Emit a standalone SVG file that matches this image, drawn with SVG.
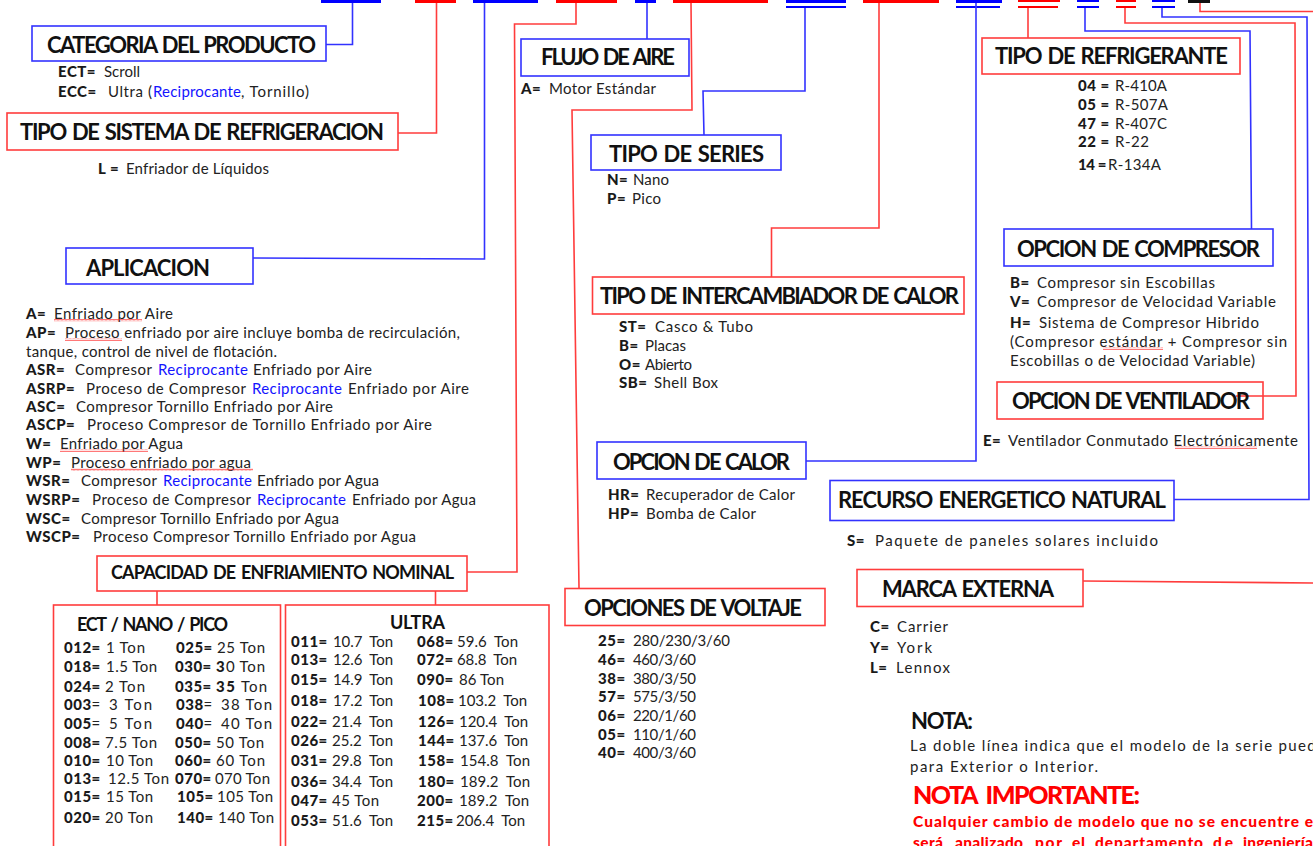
<svg xmlns="http://www.w3.org/2000/svg" width="1313" height="846" viewBox="0 0 1313 846">
<style>
text{font-family:"Lato","Open Sans","Liberation Sans",sans-serif;font-size:15px;fill:#222;white-space:pre;transform:translateY(.5px)}
.t{font-size:22px;font-weight:700;fill:#111;word-spacing:2px;transform:translateY(1px)}
.t2{font-size:18px}
.k{font-weight:900;fill:#1a1a1a;letter-spacing:.5px}
.b{fill:#1414ff}
.r{fill:#f00;font-weight:900;font-size:15.5px}
.box{fill:#fff;stroke-width:1.6}
.rb{stroke:#ff3c3c}.bb{stroke:#3232ff}
.c{fill:none;stroke-width:1.6}
.sq{fill:url(#squig)}
</style>
<defs>
<pattern id="squig" width="4" height="3" patternUnits="userSpaceOnUse"><path d="M0 2.500L1 .8 2 2.500 3 .8 4 2.500" fill="none" stroke="#f33" stroke-width=".7"/></pattern>
</defs>
<rect width="1313" height="846" fill="#fff"/>

<g id="code-bars">
<rect x="321" y="0" width="60" height="3" fill="#00f"/>
<rect x="415" y="0" width="41" height="3" fill="#f00"/>
<rect x="473" y="0" width="65" height="3" fill="#00f"/>
<rect x="556" y="0" width="61" height="3" fill="#f00"/>
<rect x="635" y="0" width="21" height="3" fill="#00f"/>
<rect x="673" y="0" width="95" height="3" fill="#f00"/>
<rect x="786" y="0" width="60" height="3" fill="#00f"/><rect x="786" y="6" width="60" height="2" fill="#00f"/>
<rect x="863" y="0" width="76" height="3" fill="#f00"/>
<rect x="956" y="0" width="46" height="3" fill="#00f"/><rect x="956" y="6" width="44" height="2" fill="#00f"/>
<rect x="1018" y="0" width="42" height="2" fill="#f00"/><rect x="1018" y="6" width="40" height="2" fill="#f00"/>
<rect x="1077" y="0" width="22" height="2" fill="#00f"/><rect x="1077" y="6" width="22" height="2" fill="#00f"/>
<rect x="1116" y="0" width="20" height="2" fill="#f00"/><rect x="1116" y="6" width="20" height="2" fill="#f00"/>
<rect x="1152" y="0" width="23" height="2" fill="#00f"/><rect x="1152" y="6" width="23" height="2" fill="#00f"/>
<rect x="1188" y="0" width="22" height="3" fill="#111"/>
</g>

<g id="connectors">
<path class="c bb" d="M352.500 3V44.500H326"/>
<path class="c rb" d="M436.500 3V133H398"/>
<path class="c bb" d="M484.500 3V259L253 258"/>
<path class="c rb" d="M576 3V24H514.500L517 572H467"/>
<path class="c bb" d="M647 3V39"/>
<path class="c rb" d="M691 3L692 110H572L579 588"/>
<path class="c bb" d="M805 8V91H703L704 135"/>
<path class="c rb" d="M879 3V228H771.500V277"/>
<path class="c bb" d="M976 3V461H806"/>
<path class="c rb" d="M1028 8V38"/>
<path class="c bb" d="M1085 8V31H1250L1251.500 229"/>
<path class="c rb" d="M1125 8V23H1295L1296 396H1236"/>
<path class="c bb" d="M1162 8V17H1307L1309 499.500H1174"/>
<path class="c rb" d="M1200 3V11.500H1313"/>
<path class="c rb" d="M1083 581L1313 583"/>
<path class="c rb" d="M157 591V605M435.500 591V605"/>
</g>

<g id="categoria"><rect class="box bb" x="32" y="26" width="294" height="35"/>
<text class="t" x="47" y="52" textLength="269">CATEGORIA DEL PRODUCTO</text>
<text class="k" x="58" y="76">ECT=</text><text x="104" y="76" textLength="36">Scroll</text>
<text class="k" x="58" y="96">ECC=</text><text x="108" y="96" textLength="44">Ultra (</text><text class="b" x="153" y="96" textLength="88">Reciprocante</text><text x="241" y="96" textLength="68">, Tornillo)</text></g>

<g id="sistema"><rect class="box rb" x="7" y="113" width="391" height="37"/>
<text class="t" x="20" y="139" textLength="364">TIPO DE SISTEMA DE REFRIGERACION</text>
<text class="k" x="98" y="173">L =</text><text x="126" y="173" textLength="143">Enfriador de Líquidos</text></g>

<g id="aplicacion"><rect class="box bb" x="66" y="248" width="187" height="36"/>
<text class="t" x="86" y="275" textLength="124">APLICACION</text>
<text class="k" x="26" y="318">A=</text><text x="54" y="318" textLength="119">Enfriado por Aire</text><rect class="sq" x="54" y="319" width="88" height="3"/>
<text class="k" x="26" y="337">AP=</text><text x="65" y="337" textLength="395">Proceso enfriado por aire incluye bomba de recirculación,</text><rect class="sq" x="65" y="338" width="57" height="3"/>
<text x="26" y="356" textLength="251">tanque, control de nivel de flotación.</text>
<text class="k" x="26" y="374">ASR=</text><text x="75" y="374" textLength="77">Compresor</text><text class="b" x="158" y="374" textLength="90">Reciprocante</text><text x="253" y="374" textLength="119">Enfriado por Aire</text>
<text class="k" x="26" y="393">ASRP=</text><text x="86" y="393" textLength="160">Proceso de Compresor</text><text class="b" x="252" y="393" textLength="90">Reciprocante</text><text x="348" y="393" textLength="121">Enfriado por Aire</text>
<text class="k" x="26" y="411">ASC=</text><text x="76" y="411" textLength="257">Compresor Tornillo Enfriado por Aire</text>
<text class="k" x="26" y="429">ASCP=</text><text x="87" y="429" textLength="345">Proceso Compresor de Tornillo Enfriado por Aire</text>
<text class="k" x="26" y="448">W=</text><text x="60" y="448" textLength="123">Enfriado por Agua</text><rect class="sq" x="60" y="449" width="88" height="3"/>
<text class="k" x="26" y="467">WP=</text><text x="71" y="467" textLength="180">Proceso enfriado por agua</text><rect class="sq" x="71" y="468" width="182" height="3"/>
<text class="k" x="26" y="485">WSR=</text><text x="81" y="485" textLength="76">Compresor</text><text class="b" x="163" y="485" textLength="89">Reciprocante</text><text x="257" y="485" textLength="122">Enfriado por Agua</text>
<text class="k" x="26" y="504">WSRP=</text><text x="92" y="504" textLength="159">Proceso de Compresor</text><text class="b" x="257" y="504" textLength="89">Reciprocante</text><text x="352" y="504" textLength="124">Enfriado por Agua</text>
<text class="k" x="26" y="523">WSC=</text><text x="81" y="523" textLength="258">Compresor Tornillo Enfriado por Agua</text>
<text class="k" x="26" y="541">WSCP=</text><text x="93" y="541" textLength="323">Proceso Compresor Tornillo Enfriado por Agua</text></g>

<g id="capacidad"><rect class="box rb" x="97" y="556" width="370" height="35"/>
<text class="t t2" x="111" y="578" textLength="343">CAPACIDAD DE ENFRIAMIENTO NOMINAL</text></g>

<g id="tabla-ect"><rect class="box rb" x="53.500" y="605" width="227" height="250"/>
<text class="t t2" x="77" y="630" textLength="151">ECT / NANO / PICO</text>
<text class="k" x="64" y="652">012=</text><text x="106" y="652" textLength="39">1 Ton</text>
<text class="k" x="64" y="671">018=</text><text x="106" y="671" textLength="51">1.5 Ton</text>
<text class="k" x="64" y="691">024=</text><text x="105" y="691" textLength="40">2 Ton</text>
<text x="64" y="709"><tspan class="k">003</tspan>=</text><text x="109" y="709" textLength="43">3 Ton</text>
<text x="64" y="728"><tspan class="k">005</tspan>=</text><text x="109" y="728" textLength="43">5 Ton</text>
<text class="k" x="64" y="747">008=</text><text x="105" y="747" textLength="52">7.5 Ton</text>
<text class="k" x="64" y="765">010=</text><text x="106" y="765" textLength="47">10 Ton</text>
<text class="k" x="64" y="783">013=</text><text x="108" y="783" textLength="61">12.5 Ton</text>
<text class="k" x="64" y="801">015=</text><text x="106" y="801" textLength="47">15 Ton</text>
<text class="k" x="64" y="822">020=</text><text x="105" y="822" textLength="48">20 Ton</text>
<text class="k" x="176" y="652">025=</text><text x="217" y="652" textLength="48">25 Ton</text>
<text class="k" x="175" y="671">030=</text><text x="216" y="671" textLength="49"><tspan class="k">3</tspan>0 Ton</text>
<text class="k" x="175" y="691">035=</text><text x="216" y="691" textLength="51"><tspan class="k">35</tspan> Ton</text>
<text x="176" y="709"><tspan class="k">038</tspan>=</text><text x="221" y="709" textLength="51">38 Ton</text>
<text x="176" y="728"><tspan class="k">040</tspan>=</text><text x="221" y="728" textLength="51">40 Ton</text>
<text class="k" x="175" y="747">050=</text><text x="216" y="747" textLength="48">50 Ton</text>
<text class="k" x="175" y="765">060=</text><text x="216" y="765" textLength="49">60 Ton</text>
<text class="k" x="175" y="783">070=</text><text x="215" y="783" textLength="55">070 Ton</text>
<text class="k" x="177" y="801">105=</text><text x="217" y="801" textLength="56">105 Ton</text>
<text class="k" x="177" y="822">140=</text><text x="218" y="822" textLength="56">140 Ton</text></g>

<g id="tabla-ultra"><rect class="box rb" x="285.500" y="605" width="263.500" height="250"/>
<text class="t t2" x="390" y="628" textLength="55">ULTRA</text>
<text class="k" x="291" y="646">011=</text><text x="333" y="646" textLength="60">10.7  Ton</text>
<text class="k" x="291" y="664">013=</text><text x="333" y="664" textLength="60">12.6  Ton</text>
<text class="k" x="291" y="684">015=</text><text x="333" y="684" textLength="60">14.9  Ton</text>
<text class="k" x="291" y="705">018=</text><text x="333" y="705" textLength="60">17.2  Ton</text>
<text class="k" x="291" y="726">022=</text><text x="332" y="726" textLength="61">21.4  Ton</text>
<text class="k" x="291" y="745">026=</text><text x="332" y="745" textLength="61">25.2  Ton</text>
<text class="k" x="291" y="765">031=</text><text x="332" y="765" textLength="61">29.8  Ton</text>
<text class="k" x="291" y="786">036=</text><text x="332" y="786" textLength="61">34.4  Ton</text>
<text class="k" x="291" y="805">047=</text><text x="332" y="805" textLength="47">45 Ton</text>
<text class="k" x="291" y="825">053=</text><text x="332" y="825" textLength="61">51.6  Ton</text>
<text class="k" x="417" y="646">068=</text><text x="457" y="646" textLength="61">59.6  Ton</text>
<text class="k" x="417" y="664">072=</text><text x="457" y="664" textLength="60">68.8  Ton</text>
<text class="k" x="417" y="684">090=</text><text x="459" y="684" textLength="45">86 Ton</text>
<text class="k" x="418" y="705">108=</text><text x="458" y="705" textLength="69">103.2  Ton</text>
<text class="k" x="418" y="726">126=</text><text x="459" y="726" textLength="69">120.4  Ton</text>
<text class="k" x="418" y="745">144=</text><text x="459" y="745" textLength="69">137.6  Ton</text>
<text class="k" x="418" y="765">158=</text><text x="460" y="765" textLength="70">154.8  Ton</text>
<text class="k" x="418" y="786">180=</text><text x="460" y="786" textLength="70">189.2  Ton</text>
<text class="k" x="417" y="805">200=</text><text x="459" y="805" textLength="70">189.2  Ton</text>
<text class="k" x="417" y="825">215=</text><text x="456" y="825" textLength="69">206.4  Ton</text></g>

<g id="flujo"><rect class="box bb" x="521" y="39" width="168" height="37"/>
<text class="t" x="541" y="64" textLength="134">FLUJO DE AIRE</text>
<text class="k" x="521" y="93">A=</text><text x="549" y="93" textLength="107">Motor Estándar</text></g>

<g id="series"><rect class="box bb" x="591" y="135" width="190" height="35"/>
<text class="t" x="609" y="161" textLength="155">TIPO DE SERIES</text>
<text class="k" x="607" y="184">N=</text><text x="633" y="184" textLength="36">Nano</text>
<text class="k" x="607" y="203">P=</text><text x="632" y="203" textLength="29">Pico</text></g>

<g id="intercambiador"><rect class="box rb" x="592.500" y="277" width="371.500" height="37"/>
<text class="t" x="600" y="303" textLength="359">TIPO DE INTERCAMBIADOR DE CALOR</text>
<text class="k" x="619" y="331">ST=</text><text x="655" y="331" textLength="98">Casco &amp; Tubo</text>
<text class="k" x="619" y="350">B=</text><text x="645" y="350" textLength="41">Placas</text>
<text class="k" x="619" y="369">O=</text><text x="645" y="369" textLength="47">Abierto</text>
<text class="k" x="619" y="387">SB=</text><text x="654" y="387" textLength="64">Shell Box</text></g>

<g id="calor"><rect class="box bb" x="597" y="442" width="209" height="37"/>
<text class="t" x="613" y="469" textLength="177">OPCION DE CALOR</text>
<text class="k" x="608" y="499">HR=</text><text x="646" y="499" textLength="149">Recuperador de Calor</text>
<text class="k" x="608" y="518">HP=</text><text x="646" y="518" textLength="110">Bomba de Calor</text></g>

<g id="voltaje"><rect class="box rb" x="565" y="588.500" width="260" height="37"/>
<text class="t" x="584" y="615" textLength="218">OPCIONES DE VOLTAJE</text>
<text class="k" x="598" y="645">25=</text><text x="633" y="645" textLength="97">280/230/3/60</text>
<text class="k" x="598" y="664">46=</text><text x="633" y="664" textLength="63">460/3/60</text>
<text class="k" x="598" y="683">38=</text><text x="633" y="683" textLength="63">380/3/50</text>
<text class="k" x="598" y="701">57=</text><text x="633" y="701" textLength="63">575/3/50</text>
<text class="k" x="598" y="720">06=</text><text x="633" y="720" textLength="63">220/1/60</text>
<text class="k" x="598" y="739">05=</text><text x="633" y="739" textLength="63">110/1/60</text>
<text class="k" x="598" y="757">40=</text><text x="633" y="757" textLength="63">400/3/60</text></g>

<g id="refrigerante"><rect class="box rb" x="982" y="38" width="258" height="36"/>
<text class="t" x="995" y="63" textLength="233">TIPO DE REFRIGERANTE</text>
<text class="k" x="1078" y="90">04 =</text><text x="1115" y="90" textLength="52">R-410A</text>
<text class="k" x="1078" y="109">05 =</text><text x="1115" y="109" textLength="53">R-507A</text>
<text class="k" x="1078" y="128">47 =</text><text x="1115" y="128" textLength="52">R-407C</text>
<text class="k" x="1078" y="146">22 =</text><text x="1115" y="146" textLength="34">R-22</text>
<text class="k" x="1078" y="169" textLength="29">14 =</text><text x="1108" y="169" textLength="53">R-134A</text></g>

<g id="compresor"><rect class="box bb" x="1004" y="229" width="269" height="37"/>
<text class="t" x="1017" y="256" textLength="243">OPCION DE COMPRESOR</text>
<text class="k" x="1010" y="287">B=</text><text x="1037" y="287" textLength="178">Compresor sin Escobillas</text>
<text class="k" x="1010" y="306">V=</text><text x="1037" y="306" textLength="239">Compresor de Velocidad Variable</text>
<text class="k" x="1010" y="327">H=</text><text x="1039" y="327" textLength="220">Sistema de Compresor Hibrido</text>
<text x="1010" y="346" textLength="277">(Compresor estándar + Compresor sin</text><rect class="sq" x="1103" y="347" width="60" height="3"/>
<text x="1010" y="365" textLength="245">Escobillas o de Velocidad Variable)</text></g>

<g id="ventilador"><rect x="997" y="382" width="266" height="37" fill="none" stroke="#ff3c3c" stroke-width="1.6"/>
<text class="t" x="1012" y="408" textLength="238">OPCION DE VENTILADOR</text>
<text class="k" x="983" y="445">E=</text><text x="1008" y="445" textLength="290">Ventilador Conmutado Electrónicamente</text><rect class="sq" x="1175" y="446" width="82" height="3"/></g>

<g id="recurso"><rect class="box bb" x="830" y="480.500" width="344" height="40"/>
<text class="t" x="838" y="507" textLength="328">RECURSO ENERGETICO NATURAL</text>
<text class="k" x="847" y="545">S=</text><text x="875" y="545" textLength="283">Paquete de paneles solares incluido</text></g>

<g id="marca"><rect class="box rb" x="857" y="569.500" width="226" height="37"/>
<text class="t" x="882" y="596" textLength="172">MARCA EXTERNA</text>
<text class="k" x="870" y="631">C=</text><text x="897" y="631" textLength="51">Carrier</text>
<text class="k" x="870" y="652">Y=</text><text x="897" y="652" textLength="35">York</text>
<text class="k" x="870" y="672">L=</text><text x="896" y="672" textLength="54">Lennox</text></g>

<g id="notas">
<text class="t" x="911" y="728" textLength="62">NOTA:</text>
<text x="910" y="750" textLength="415">La doble línea indica que el modelo de la serie puede</text>
<text x="910" y="771" textLength="188">para Exterior o Interior.</text>
<text class="t" style="font-size:25px;fill:#f00;font-weight:900;word-spacing:5px" x="913" y="803" textLength="227">NOTA IMPORTANTE:</text>
<text class="r" x="913" y="826" textLength="400">Cualquier cambio de modelo que no se encuentre e</text>
<text class="r" x="913" y="847" textLength="30">será</text><text class="r" x="955" y="847" textLength="68">analizado</text><text class="r" x="1035" y="847" textLength="27">por</text><text class="r" x="1072" y="847" textLength="13">el</text><text class="r" x="1095" y="847" textLength="108">departamento</text><text class="r" x="1213" y="847" textLength="20">de</text><text class="r" x="1243" y="847" textLength="70">ingeniería</text>
</g>
</svg>
